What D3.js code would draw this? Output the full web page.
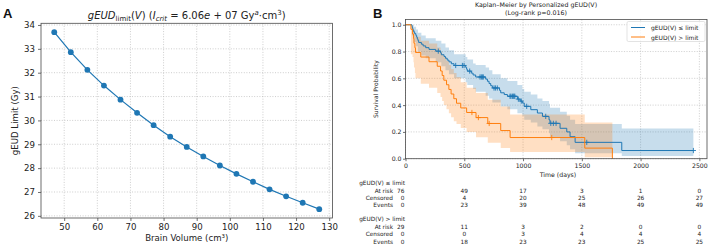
<!DOCTYPE html>
<html>
<head>
<meta charset="utf-8">
<script src="https://cdnjs.cloudflare.com/ajax/libs/d3/7.8.5/d3.min.js"></script>
<style>
	body { margin: 0; background: #fff; }
	svg { display: block; font-family: 'DejaVu Sans', sans-serif; }
</style>
</head>
<body>
<svg id="chart" width="709" height="244"></svg>
<script>
// ---- panel A data
const volumes = [47, 52, 57, 62, 67, 72, 77, 82, 87, 92, 97, 102, 107, 112, 117, 122, 127]
const gEUDLimit = [33.70, 32.86, 32.12, 31.46, 30.87, 30.32, 29.80, 29.32, 28.89, 28.49, 28.11, 27.76, 27.43, 27.11, 26.82, 26.55, 26.28]
const xTicksA = [50, 60, 70, 80, 90, 100, 110, 120, 130]
const yTicksA = [26, 27, 28, 29, 30, 31, 32, 33, 34]

// ---- panel B data
const groupNames = ['gEUD(V) \u2264 limit', 'gEUD(V) > limit']

const blueTimes = [0, 55, 58, 62, 70, 78, 88, 95, 100, 106, 112, 135, 150, 172, 200, 257, 299, 305, 328, 340, 355, 370, 390, 413, 512, 520, 526, 560, 575, 597, 682, 697, 711, 725, 739, 800, 810, 840, 867, 952, 975, 994, 1010, 1066, 1122, 1165, 1221, 1229, 1315, 1372, 1400, 1443, 1840]
const blueSurv = [1, 0.987, 0.974, 0.961, 0.947, 0.934, 0.921, 0.908, 0.895, 0.882, 0.868, 0.855, 0.842, 0.829, 0.816, 0.803, 0.790, 0.776, 0.763, 0.750, 0.736, 0.723, 0.709, 0.696, 0.682, 0.668, 0.654, 0.639, 0.625, 0.610, 0.594, 0.578, 0.561, 0.545, 0.528, 0.510, 0.492, 0.479, 0.466, 0.445, 0.430, 0.416, 0.391, 0.366, 0.341, 0.316, 0.290, 0.264, 0.227, 0.200, 0.164, 0.122, 0.061]
const blueCensor = [279, 427, 484, 498, 546, 634, 645, 654, 662, 753, 765, 781, 889, 897, 909, 916, 923, 930, 960, 985, 1031, 1193, 1236, 1258, 1281, 1542, 2449]
const blueEnd = 2449
const blueBandT = [0, 55, 70, 90, 106, 135, 172, 257, 305, 340, 370, 413, 512, 526, 575, 597, 682, 711, 739, 810, 867, 952, 994, 1010, 1066, 1122, 1165, 1221, 1229, 1315, 1372, 1400, 1443, 1840]
const blueLo = [1, 0.92, 0.87, 0.84, 0.80, 0.77, 0.75, 0.72, 0.69, 0.66, 0.63, 0.60, 0.57, 0.55, 0.52, 0.50, 0.47, 0.45, 0.42, 0.39, 0.37, 0.34, 0.32, 0.29, 0.27, 0.24, 0.22, 0.19, 0.16, 0.13, 0.10, 0.07, 0.04, 0.02]
const blueHi = [1, 0.998, 0.985, 0.965, 0.94, 0.92, 0.90, 0.88, 0.86, 0.83, 0.81, 0.78, 0.76, 0.74, 0.71, 0.70, 0.68, 0.66, 0.63, 0.60, 0.58, 0.55, 0.52, 0.50, 0.48, 0.45, 0.43, 0.41, 0.38, 0.35, 0.32, 0.29, 0.26, 0.225]

const orangeTimes = [0, 46, 60, 68, 72, 80, 85, 130, 200, 270, 298, 312, 326, 349, 369, 388, 411, 434, 470, 520, 600, 700, 810, 890, 1525, 1760]
const orangeSurv = [1, 0.966, 0.931, 0.897, 0.862, 0.828, 0.793, 0.759, 0.724, 0.690, 0.655, 0.621, 0.586, 0.552, 0.517, 0.483, 0.448, 0.414, 0.379, 0.345, 0.307, 0.263, 0.210, 0.158, 0.079, 0]
const orangeCensor = [565, 620, 712, 1244]
const orangeEnd = 1760
const orangeBandT = [0, 46, 60, 68, 72, 80, 85, 130, 200, 270, 298, 312, 326, 349, 369, 388, 411, 434, 470, 520, 600, 700, 810, 890, 1525]
const orangeLo = [1, 0.78, 0.76, 0.72, 0.68, 0.64, 0.60, 0.56, 0.53, 0.49, 0.46, 0.43, 0.40, 0.37, 0.34, 0.31, 0.28, 0.26, 0.23, 0.20, 0.16, 0.12, 0.08, 0.05, 0.01]
const orangeHi = [1, 0.995, 0.98, 0.97, 0.95, 0.93, 0.91, 0.88, 0.86, 0.83, 0.80, 0.78, 0.76, 0.73, 0.70, 0.67, 0.64, 0.61, 0.57, 0.53, 0.49, 0.44, 0.39, 0.33, 0.27]

const xTicksB = [0, 500, 1000, 1500, 2000, 2500]
const yTicksB = [0, 0.2, 0.4, 0.6, 0.8, 1.0]

// at-risk table
const rowNames = ['At risk', 'Censored', 'Events']
const blueAtRisk = [76, 49, 17, 3, 1, 0]
const blueCensored = [0, 4, 20, 25, 26, 27]
const blueEvents = [0, 23, 39, 48, 49, 49]
const orangeAtRisk = [29, 11, 3, 2, 0, 0]
const orangeCensored = [0, 0, 3, 4, 4, 4]
const orangeEvents = [0, 18, 23, 23, 25, 25]

const colors = { blue: '#1f77b4', orange: '#ff7f0e', grid: '#b8b8b8', frame: '#4a4a4a', text: '#222' }

const svg = d3.select('#chart')

function styleAxis(g, size) {
	g.select('.domain').remove()
	g.selectAll('.tick line').attr('stroke', colors.frame).attr('stroke-width', 0.8)
	g.selectAll('.tick text').attr('fill', colors.text).style('font-size', size + 'px')
	g.attr('font-family', null)
}

// ================= Panel A
function drawPanelA() {
	const frame = { left: 41, right: 332.5, top: 23.3, bottom: 218 }
	const x = d3.scaleLinear().domain([43, 131]).range([frame.left, frame.right])
	const y = d3.scaleLinear().domain([25.91, 34.07]).range([frame.bottom, frame.top])
	const g = svg.append('g').attr('class', 'panel-a')

	// grid
	g.append('g').selectAll('line').data(xTicksA).join('line')
		.attr('x1', d => x(d)).attr('x2', d => x(d))
		.attr('y1', frame.top).attr('y2', frame.bottom)
		.attr('stroke', colors.grid).attr('stroke-width', 0.7).attr('stroke-dasharray', '1,1.6')
	g.append('g').selectAll('line').data(yTicksA).join('line')
		.attr('x1', frame.left).attr('x2', frame.right)
		.attr('y1', d => y(d)).attr('y2', d => y(d))
		.attr('stroke', colors.grid).attr('stroke-width', 0.7).attr('stroke-dasharray', '1,1.6')

	// axes
	g.append('g').attr('transform', `translate(0,${frame.bottom})`)
		.call(d3.axisBottom(x).tickValues(xTicksA).tickSize(3).tickPadding(2.5))
		.call(s => styleAxis(s, 8.6))
	g.append('g').attr('transform', `translate(${frame.left},0)`)
		.call(d3.axisLeft(y).tickValues(yTicksA).tickSize(3).tickPadding(3))
		.call(s => styleAxis(s, 8.6))

	// line + markers
	const pts = volumes.map((v, i) => [v, gEUDLimit[i]])
	g.append('path')
		.datum(pts)
		.attr('fill', 'none')
		.attr('stroke', colors.blue)
		.attr('stroke-width', 1.2)
		.attr('d', d3.line().x(d => x(d[0])).y(d => y(d[1])))
	g.append('g').selectAll('circle').data(pts).join('circle')
		.attr('cx', d => x(d[0])).attr('cy', d => y(d[1]))
		.attr('r', 2.9).attr('fill', colors.blue)

	// frame
	g.append('rect')
		.attr('x', frame.left).attr('y', frame.top)
		.attr('width', frame.right - frame.left).attr('height', frame.bottom - frame.top)
		.attr('fill', 'none').attr('stroke', colors.frame).attr('stroke-width', 0.8)

	// labels
	g.append('text')
		.attr('x', (frame.left + frame.right) / 2).attr('y', 241)
		.attr('text-anchor', 'middle').attr('fill', colors.text).style('font-size', '8.6px')
		.text('Brain Volume (cm\u00b3)')
	g.append('text')
		.attr('transform', `translate(18,${(frame.top + frame.bottom) / 2}) rotate(-90)`)
		.attr('text-anchor', 'middle').attr('fill', colors.text).style('font-size', '8.6px')
		.text('gEUD Limit (Gy)')

	// title with math-ish pieces
	const title = g.append('text')
		.attr('x', (frame.left + frame.right) / 2).attr('y', 18.5)
		.attr('text-anchor', 'middle').attr('fill', colors.text).style('font-size', '10px')
	const parts = [
		{ t: 'gEUD', it: true },
		{ t: 'limit', sub: true },
		{ t: '(', back: true },
		{ t: 'V', it: true },
		{ t: ') (' },
		{ t: 'I', it: true },
		{ t: 'crit', sub: true, it: true },
		{ t: ' = 6.06', back: true },
		{ t: 'e', it: true },
		{ t: ' + 07 Gy' },
		{ t: 'a', sup: true, it: true },
		{ t: '\u00b7cm', back: true },
		{ t: '3', sup: true },
		{ t: ')', back: true }
	]
	parts.forEach(p => {
		const ts = title.append('tspan').text(p.t)
		if (p.it) ts.style('font-style', 'italic')
		if (p.sub) ts.attr('dy', 2.2).style('font-size', '7px').style('font-style', p.t === 'crit' ? 'italic' : 'normal')
		if (p.sup) ts.attr('dy', -3.6).style('font-size', '7px')
		if (p.back) ts.attr('dy', p.t.startsWith('(') || p.t.startsWith(' =') ? -2.2 : 3.6)
	})

	svg.append('text')
		.attr('x', 3).attr('y', 18)
		.attr('fill', '#111').style('font-size', '13px').style('font-weight', 'bold')
		.style('font-family', 'Liberation Sans, Arial, sans-serif')
		.text('A')
}

// ================= Panel B
function drawPanelB() {
	const frame = { left: 405.5, right: 707, top: 19.4, bottom: 158.7 }
	const x = d3.scaleLinear().domain([0, 2565]).range([frame.left, frame.right])
	const y = d3.scaleLinear().domain([0, 1.04]).range([frame.bottom, frame.top])
	const g = svg.append('g').attr('class', 'panel-b')

	// grid
	g.append('g').selectAll('line').data(xTicksB).join('line')
		.attr('x1', d => x(d)).attr('x2', d => x(d))
		.attr('y1', frame.top).attr('y2', frame.bottom)
		.attr('stroke', colors.grid).attr('stroke-width', 0.6).attr('stroke-dasharray', '1.2,1.4')
	g.append('g').selectAll('line').data(yTicksB).join('line')
		.attr('x1', frame.left).attr('x2', frame.right)
		.attr('y1', d => y(d)).attr('y2', d => y(d))
		.attr('stroke', colors.grid).attr('stroke-width', 0.6).attr('stroke-dasharray', '1.2,1.4')

	const groups = [
		{ color: colors.blue, times: blueTimes, surv: blueSurv, censor: blueCensor, end: blueEnd, bandT: blueBandT, lo: blueLo, hi: blueHi },
		{ color: colors.orange, times: orangeTimes, surv: orangeSurv, censor: orangeCensor, end: orangeEnd, bandT: orangeBandT, lo: orangeLo, hi: orangeHi }
	]

	const area = d3.area().curve(d3.curveStepAfter)
		.x(d => x(d[0])).y0(d => y(d[1])).y1(d => y(d[2]))
	const line = d3.line().curve(d3.curveStepAfter)
		.x(d => x(d[0])).y(d => y(d[1]))

	// bands first
	groups.forEach(gr => {
		const band = gr.bandT.map((t, i) => [t, gr.lo[i], gr.hi[i]])
		const last = band[band.length - 1]
		band.push([gr.end, last[1], last[2]])
		g.append('path').datum(band)
			.attr('fill', gr.color).attr('fill-opacity', 0.25)
			.attr('d', area)
	})

	groups.forEach(gr => {
		const pts = gr.times.map((t, i) => [t, gr.surv[i]])
		const lastS = pts[pts.length - 1][1]
		if (gr.times[gr.times.length - 1] < gr.end) pts.push([gr.end, lastS])
		g.append('path').datum(pts)
			.attr('fill', 'none').attr('stroke', gr.color).attr('stroke-width', 1)
			.attr('d', line)

		const bis = d3.bisector(d => d).right
		const marks = gr.censor.map(t => [t, gr.surv[bis(gr.times, t) - 1]])
		g.append('g').selectAll('path').data(marks).join('path')
			.attr('transform', d => `translate(${x(d[0])},${y(d[1])})`)
			.attr('d', 'M-2.6,0H2.6M0,-2.6V2.6')
			.attr('stroke', gr.color).attr('stroke-width', 0.9)
	})

	// axes
	g.append('g').attr('transform', `translate(0,${frame.bottom})`)
		.call(d3.axisBottom(x).tickValues(xTicksB).tickSize(2.5).tickPadding(2.5).tickFormat(d3.format('d')))
		.call(s => styleAxis(s, 6.2))
	g.append('g').attr('transform', `translate(${frame.left},0)`)
		.call(d3.axisLeft(y).tickValues(yTicksB).tickSize(2.5).tickPadding(1.5).tickFormat(d3.format('.1f')))
		.call(s => styleAxis(s, 6.2))

	g.append('rect')
		.attr('x', frame.left).attr('y', frame.top)
		.attr('width', frame.right - frame.left).attr('height', frame.bottom - frame.top)
		.attr('fill', 'none').attr('stroke', colors.frame).attr('stroke-width', 0.8)

	// legend
	const leg = g.append('g').attr('transform', 'translate(627,21.5)')
	leg.append('rect').attr('width', 78).attr('height', 20).attr('rx', 1.5)
		.attr('fill', '#fff').attr('fill-opacity', 0.8).attr('stroke', '#d0d0d0').attr('stroke-width', 0.6)
	groups.forEach((gr, i) => {
		const yy = 6 + i * 9.5
		leg.append('line').attr('x1', 4).attr('x2', 18).attr('y1', yy).attr('y2', yy)
			.attr('stroke', gr.color).attr('stroke-width', 1)
		leg.append('text').attr('x', 24).attr('y', yy).attr('dominant-baseline', 'central')
			.attr('fill', colors.text).style('font-size', '6px').text(groupNames[i])
	})

	// titles + labels
	g.append('text').attr('x', 536).attr('y', 6.5).attr('text-anchor', 'middle')
		.attr('fill', colors.text).style('font-size', '6.3px')
		.text('Kaplan\u2013Meier by Personalized gEUD(V)')
	g.append('text').attr('x', 536).attr('y', 15.3).attr('text-anchor', 'middle')
		.attr('fill', colors.text).style('font-size', '6.3px')
		.text('(Log-rank p=0.016)')
	g.append('text').attr('x', 558).attr('y', 176.5).attr('text-anchor', 'middle')
		.attr('fill', colors.text).style('font-size', '6.2px')
		.text('Time (days)')
	g.append('text')
		.attr('transform', `translate(378,${(frame.top + frame.bottom) / 2}) rotate(-90)`)
		.attr('text-anchor', 'middle').attr('fill', colors.text).style('font-size', '6px')
		.text('Survival Probability')

	// at-risk table
	const table = [
		{ name: groupNames[0], rows: [blueAtRisk, blueCensored, blueEvents], y0: 182.7 },
		{ name: groupNames[1], rows: [orangeAtRisk, orangeCensored, orangeEvents], y0: 219 }
	]
	const tg = g.append('g').style('font-size', '5.8px').attr('fill', colors.text)
	table.forEach(blk => {
		tg.append('text').attr('x', x(0) - 0.5).attr('y', blk.y0)
			.attr('text-anchor', 'end').attr('dominant-baseline', 'central').text(blk.name)
		blk.rows.forEach((vals, r) => {
			const yy = blk.y0 + 7.8 + r * 7.35
			tg.append('text').attr('x', x(0) - 12.5).attr('y', yy)
				.attr('text-anchor', 'end').attr('dominant-baseline', 'central').text(rowNames[r])
			tg.selectAll(null).data(vals).join('text')
				.attr('x', (d, i) => i === 0 ? x(0) - 1 : x(xTicksB[i]))
				.attr('y', yy)
				.attr('text-anchor', (d, i) => i === 0 ? 'end' : 'middle')
				.attr('dominant-baseline', 'central')
				.text(d => d)
		})
	})

	svg.append('text')
		.attr('x', 373).attr('y', 18)
		.attr('fill', '#111').style('font-size', '13px').style('font-weight', 'bold')
		.style('font-family', 'Liberation Sans, Arial, sans-serif')
		.text('B')
}

drawPanelA()
drawPanelB()
</script>
</body>
</html>
